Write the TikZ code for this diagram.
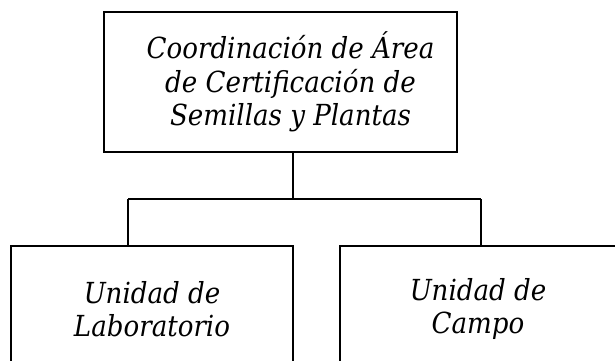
\documentclass[tikz,border=0pt]{standalone}
\usepackage{fontspec}
\setmainfont{DejaVu Serif Condensed}
\usepackage{tikz}
\usetikzlibrary{positioning}

\tikzset{
    unitbox/.style={draw, line width=1.4pt, inner sep=0pt},
    unittext/.style={align=center, inner sep=0pt,
        font=\fontsize{29}{33.5}\selectfont\itshape},
    link/.style={line width=1.2pt}
}

\begin{document}
\begin{tikzpicture}[x=1pt,y=-1pt]
        % Frame of the page
        \useasboundingbox (0,0) rectangle (615,360);
        \clip (0,0) rectangle (615,360);
        % Boxes
        \node[unitbox, minimum width=353pt, minimum height=140pt] (coord) at (280.5,82) {};
        \node[unitbox, minimum width=282pt, minimum height=126pt] (lab) at (152,309) {};
        \node[unitbox, minimum width=276pt, minimum height=126pt] (campo) at (478,309) {};
        % Texts
        \node[unittext] (coordtext) at ([xshift=10pt]coord.center)
            {Coordinación de Área\\de Certificación de\\Semillas y Plantas};
        \node[unittext] (labtext) at (lab.center) {Unidad de\\Laboratorio};
        \node[unittext] (campotext) at (campo.center) {Unidad de\\Campo};
        % Branch points
        \coordinate (j) at (293,199);
        \coordinate (jl) at (128,199);
        \coordinate (jr) at (481,199);
        % Connectors
        \draw[link] (coord.south -| j) -- (j);
        \draw[link] (jl) -- (jr);
        \draw[link] (jl) -- (lab.north -| jl);
        \draw[link] (jr) -- (campo.north -| jr);
    \end{tikzpicture}
\end{document}
